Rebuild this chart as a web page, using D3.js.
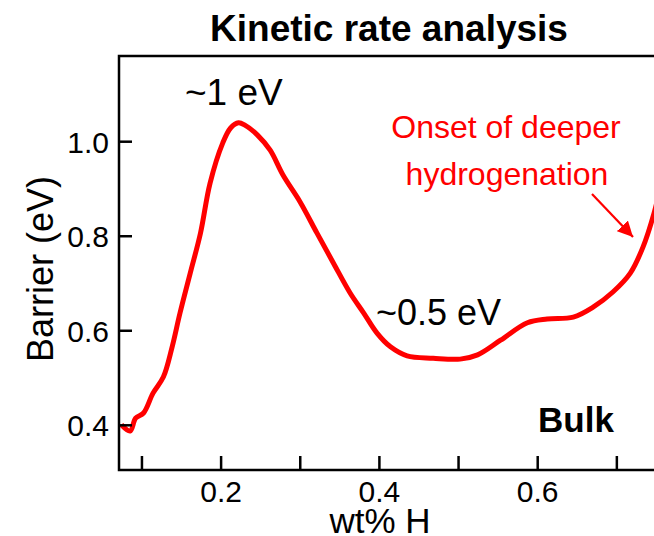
<!DOCTYPE html>
<html>
<head>
<meta charset="utf-8">
<script src="https://cdn.jsdelivr.net/npm/d3@7/dist/d3.min.js"></script>
<style>
  html, body { margin: 0; padding: 0; background: #fff; }
  svg { display: block; font-family: "Liberation Sans", Arial, sans-serif; }
</style>
</head>
<body>
<script>
// ---- data ----
const wtH = [0.074, 0.085, 0.092, 0.102, 0.114, 0.127, 0.138, 0.148, 0.161, 0.174, 0.186, 0.202, 0.212, 0.222, 0.230, 0.246, 0.262, 0.278, 0.300, 0.321, 0.342, 0.363, 0.380, 0.397, 0.414, 0.435, 0.468, 0.502, 0.524, 0.553, 0.587, 0.612, 0.645, 0.670, 0.695, 0.717, 0.733, 0.747, 0.757];
const barrier = [0.401, 0.388, 0.415, 0.426, 0.468, 0.502, 0.565, 0.637, 0.722, 0.807, 0.912, 0.997, 1.029, 1.040, 1.035, 1.014, 0.982, 0.930, 0.872, 0.807, 0.743, 0.680, 0.638, 0.595, 0.566, 0.547, 0.542, 0.540, 0.549, 0.580, 0.617, 0.625, 0.629, 0.650, 0.682, 0.722, 0.777, 0.849, 0.919];
const xTicks = [0.1, 0.2, 0.3, 0.4, 0.5, 0.6, 0.7];
const xTickLabels = ["", "0.2", "", "0.4", "", "0.6", ""];
const yTicks = [0.4, 0.6, 0.8, 1.0];
const yTickLabels = ["0.4", "0.6", "0.8", "1.0"];

(function () {
const W = 654, H = 536;
const pL = 119, pR = 700, pT = 56, pB = 470;

const svg = d3.select("body").append("svg").attr("width", W).attr("height", H);

const x = d3.scaleLinear().domain([0.071, 0.8]).range([pL, 696]);
const y = d3.scaleLinear().domain([0.4, 1.0]).range([425.3, 141.7]);

const defs = svg.append("defs");
defs.append("clipPath").attr("id", "clip")
  .append("rect").attr("x", pL).attr("y", pT).attr("width", pR - pL).attr("height", pB - pT);

// line
const line = d3.line().x((d, i) => x(wtH[i])).y((d, i) => y(barrier[i])).curve(d3.curveCatmullRom.alpha(0.5));
svg.append("path")
  .datum(barrier)
  .attr("clip-path", "url(#clip)")
  .attr("d", line)
  .attr("fill", "none")
  .attr("stroke", "#ff0000")
  .attr("stroke-width", 5)
  .attr("stroke-linejoin", "round");

// frame
svg.append("rect").attr("x", pL).attr("y", pT).attr("width", pR - pL).attr("height", pB - pT)
  .attr("fill", "none").attr("stroke", "#000").attr("stroke-width", 2.5);

// x ticks (inward)
const xt = svg.append("g");
xTicks.forEach((t, i) => {
  xt.append("line").attr("x1", x(t)).attr("x2", x(t)).attr("y1", pB).attr("y2", pB - 14)
    .attr("stroke", "#000").attr("stroke-width", 2.5);
  if (xTickLabels[i]) {
    xt.append("text").attr("x", x(t)).attr("y", 502).attr("text-anchor", "middle")
      .attr("font-size", 30).attr("fill", "#000").text(xTickLabels[i]);
  }
});

// y ticks (inward)
const yt = svg.append("g");
yTicks.forEach((t, i) => {
  yt.append("line").attr("x1", pL).attr("x2", pL + 13).attr("y1", y(t)).attr("y2", y(t))
    .attr("stroke", "#000").attr("stroke-width", 2.5);
  yt.append("text").attr("x", 109).attr("y", y(t)).attr("dy", "0.36em").attr("text-anchor", "end")
    .attr("font-size", 30).attr("fill", "#000").text(yTickLabels[i]);
});

// axis titles
svg.append("text").attr("x", 380).attr("y", 533).attr("text-anchor", "middle")
  .attr("font-size", 35).attr("fill", "#000").text("wt% H");
svg.append("text").attr("transform", "translate(53,269) rotate(-90)").attr("text-anchor", "middle")
  .attr("font-size", 36).attr("fill", "#000").text("Barrier (eV)");

// title
svg.append("text").attr("x", 389).attr("y", 41).attr("text-anchor", "middle")
  .attr("font-size", 37).attr("font-weight", "bold").attr("fill", "#000").text("Kinetic rate analysis");

// annotations
svg.append("text").attr("x", 185).attr("y", 105).attr("font-size", 37).attr("fill", "#000").text("~1 eV");
svg.append("text").attr("x", 376).attr("y", 325).attr("font-size", 36).attr("fill", "#000").text("~0.5 eV");
svg.append("text").attr("x", 576).attr("y", 432).attr("text-anchor", "middle")
  .attr("font-size", 35).attr("font-weight", "bold").attr("fill", "#000").text("Bulk");
svg.append("text").attr("x", 506).attr("y", 138).attr("text-anchor", "middle")
  .attr("font-size", 32).attr("fill", "#ff0000").text("Onset of deeper");
svg.append("text").attr("x", 507).attr("y", 185).attr("text-anchor", "middle")
  .attr("font-size", 32).attr("fill", "#ff0000").text("hydrogenation");

// arrow
defs.append("marker").attr("id", "arr").attr("viewBox", "0 0 10 10")
  .attr("refX", 10).attr("refY", 5).attr("markerWidth", 7).attr("markerHeight", 7)
  .attr("markerUnits", "strokeWidth").attr("orient", "auto")
  .append("path").attr("d", "M0,0 L10,5 L0,10 Z").attr("fill", "#ff0000");
svg.append("line").attr("x1", 592).attr("y1", 194).attr("x2", 633).attr("y2", 237)
  .attr("stroke", "#ff0000").attr("stroke-width", 2.2).attr("marker-end", "url(#arr)");
})();
</script>
</body>
</html>
